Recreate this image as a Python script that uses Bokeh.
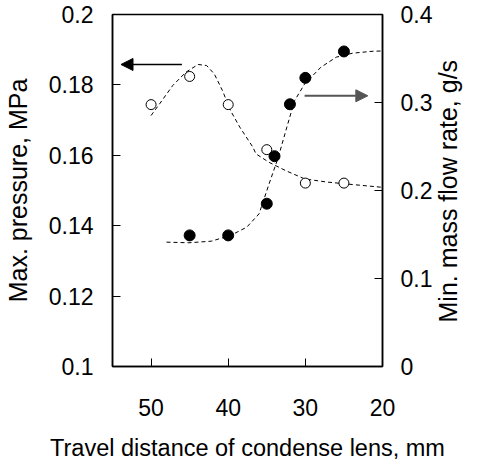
import math
from bokeh.plotting import figure
from bokeh.models import (Range1d, LinearAxis, FixedTicker, Arrow, NormalHead)
from bokeh.embed import file_html
from bokeh.resources import INLINE

# Travel distance of condense lens (mm) and measured values
dist_pressure = [50, 45, 40, 35, 30, 25]
max_pressure = [0.1744, 0.1824, 0.1744, 0.1616, 0.1521, 0.1521]

dist_flow = [45, 40, 35, 34, 32, 30, 25]
min_flow = [0.149, 0.149, 0.185, 0.239, 0.298, 0.328, 0.358]

# Dashed trend curves
trend_p_x = [50.0, 48.9, 47.2, 45.5, 43.9, 42.8, 41.8, 40.75, 39.7, 38.5, 36.8,
             36.4, 34.7, 32.6, 30.1, 27.2, 23.9, 20.0]
trend_p_y = [0.1713, 0.1746, 0.1798, 0.1836, 0.1858, 0.1855, 0.1831, 0.1784,
             0.1727, 0.1680, 0.1623, 0.1604, 0.1580, 0.1557, 0.1533, 0.1524,
             0.1517, 0.1509]

trend_f_x = [48.0, 45.1, 42.2, 39.7, 37.6, 36.0, 34.7, 33.5, 32.4, 31.4, 30.1,
             28.0, 26.0, 23.9, 21.2, 20.0]
trend_f_y = [0.1413, 0.1406, 0.1424, 0.1489, 0.1583, 0.1735, 0.2076, 0.238,
             0.272, 0.302, 0.321, 0.340, 0.3515, 0.356, 0.3583, 0.3585]

x_ticks = [50, 40, 30, 20]
left_ticks = [0.1, 0.12, 0.14, 0.16, 0.18, 0.2]
left_tick_labels = ["0.1", "0.12", "0.14", "0.16", "0.18", "0.2"]
right_ticks = [0, 0.1, 0.2, 0.3, 0.4]
right_tick_labels = ["0", "0.1", "0.2", "0.3", "0.4"]
right_title = "Min. mass flow rate, g/s"

FONT = "Liberation Sans"
TICK_SIZE = "23px"
X_TITLE_SIZE = "23.5px"
Y_TITLE_SIZE = "25px"

p = figure(width=478, height=466, output_backend="svg", toolbar_location=None,
           x_range=Range1d(55, 20), y_range=Range1d(0.1, 0.2),
           min_border_left=111, min_border_right=86, min_border_top=14,
           min_border_bottom=100)
p.extra_y_ranges = {"flow": Range1d(0, 0.4)}
p.grid.visible = False
p.background_fill_color = "white"
p.border_fill_color = "white"
p.outline_line_color = "black"
p.outline_line_width = 1.5


def style_axis(ax, title_size):
    ax.axis_line_color = "black"
    ax.axis_line_width = 1.5
    ax.major_tick_line_color = "black"
    ax.major_tick_line_width = 1
    ax.major_tick_in = 8
    ax.major_tick_out = 0
    ax.minor_tick_line_color = None
    ax.major_label_text_font = FONT
    ax.major_label_text_font_size = TICK_SIZE
    ax.major_label_text_color = "black"
    ax.axis_label_text_font = FONT
    ax.axis_label_text_font_size = title_size
    ax.axis_label_text_font_style = "normal"
    ax.axis_label_text_color = "black"


xa = p.xaxis[0]
style_axis(xa, X_TITLE_SIZE)
xa.ticker = FixedTicker(ticks=x_ticks)
xa.major_label_standoff = 32
xa.axis_label = "Travel distance of condense lens, mm"
xa.axis_label_standoff = 16

ya = p.yaxis[0]
style_axis(ya, Y_TITLE_SIZE)
ya.ticker = FixedTicker(ticks=left_ticks)
ya.major_label_overrides = dict(zip(left_ticks, left_tick_labels))
ya.major_label_standoff = 19
ya.axis_label = "Max. pressure, MPa"
ya.axis_label_standoff = 14

ra = LinearAxis(y_range_name="flow")
style_axis(ra, Y_TITLE_SIZE)
ra.ticker = FixedTicker(ticks=right_ticks)
ra.major_label_overrides = dict(zip(right_ticks, right_tick_labels))
ra.major_label_standoff = 18
p.add_layout(ra, "right")

# Bare outer axis whose single, rotated tick label serves as the right-hand
# title (reading bottom to top, starting at the tick position).
title_start = 0.05
ra_title = LinearAxis(y_range_name="flow")
style_axis(ra_title, Y_TITLE_SIZE)
ra_title.ticker = FixedTicker(ticks=[title_start])
ra_title.major_label_overrides = {title_start: right_title}
ra_title.major_label_orientation = math.pi / 2
ra_title.major_label_text_font_size = Y_TITLE_SIZE
ra_title.major_label_standoff = 12
ra_title.axis_line_color = None
ra_title.major_tick_line_color = None
p.add_layout(ra_title, "right")

# trend curves
p.line(trend_p_x, trend_p_y, line_color="black", line_width=1, line_dash="4 3")
p.line(trend_f_x, trend_f_y, line_color="black", line_width=1, line_dash="4 3",
       y_range_name="flow")

# measured points
p.scatter(dist_pressure, max_pressure, marker="circle", size=10,
          fill_color="white", line_color="black", line_width=1)
p.scatter(dist_flow, min_flow, marker="circle", size=11,
          fill_color="black", line_color="black", y_range_name="flow")

# arrows pointing to the relevant axes
p.add_layout(Arrow(x_start=46.0, y_start=0.1858, x_end=53.9, y_end=0.1858,
                   line_color="black", line_width=1.5,
                   end=NormalHead(size=12, fill_color="black", line_color="black")))
p.add_layout(Arrow(x_start=30.1, y_start=0.1769, x_end=21.9, y_end=0.1769,
                   line_color="#555555", line_width=2,
                   end=NormalHead(size=12, fill_color="#555555", line_color="#555555")))

open("out.html", "w").write(file_html(p, INLINE))
